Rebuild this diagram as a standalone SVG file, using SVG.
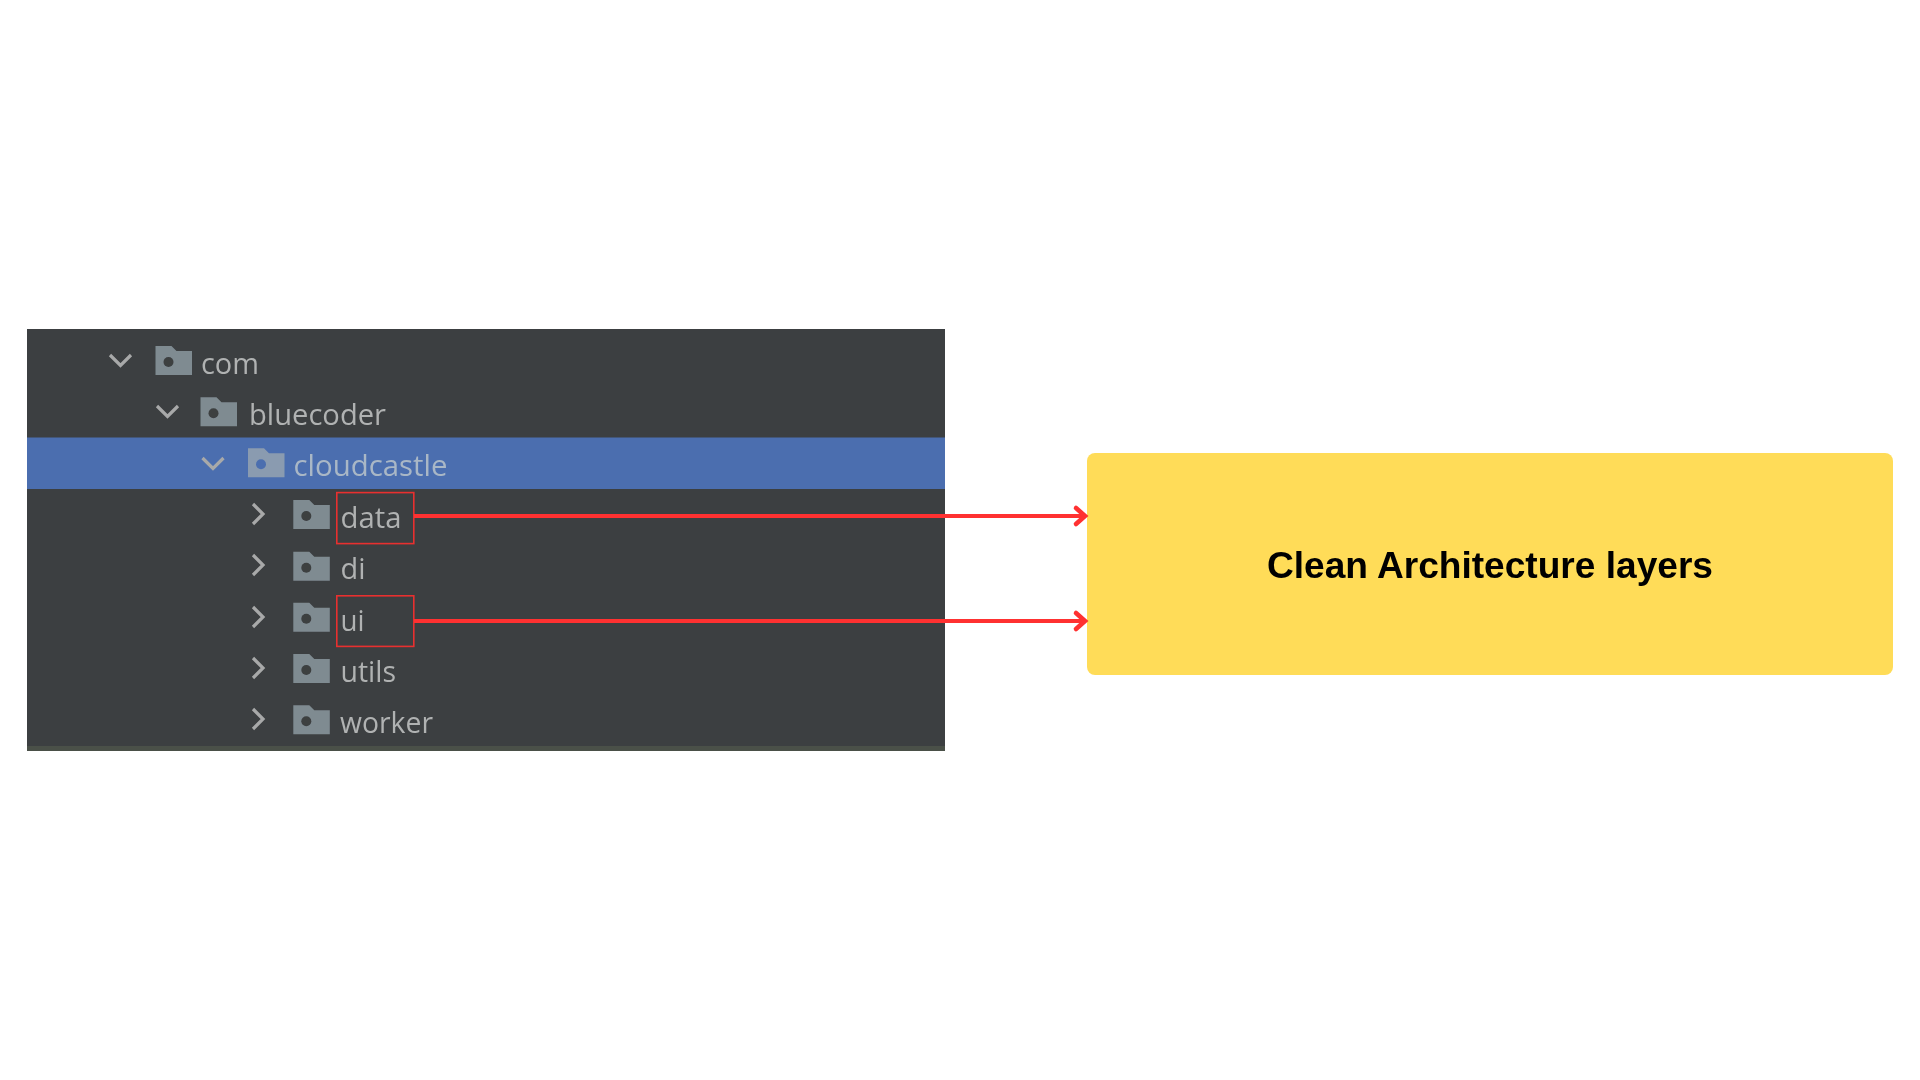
<svg xmlns="http://www.w3.org/2000/svg" width="1920" height="1080" viewBox="0 0 1920 1080">
<style>
.t{font-family:"Open Sans","Liberation Sans",sans-serif;font-size:30px;fill:#b0b2b2}
.chev{fill:none;stroke:#a8a9a9;stroke-width:3.2}
.hl{fill:none;stroke:#e8302f;stroke-width:1.6}
.conn{fill:none;stroke:#ff3131;stroke-width:4}
.head{fill:none;stroke:#ff3131;stroke-width:4.6;stroke-linecap:round}
.dot{fill:#3c3f41}
</style>
<defs>
<filter id="soft" x="-5%" y="-5%" width="110%" height="110%"><feGaussianBlur stdDeviation="0.7"/></filter>
<path id="folder" d="M0 0H16L21 5H36.5V29H0Z" fill="#7f8b91"/>
<path id="down" d="M0 0L10.5 10.5L21 0" class="chev"/>
<path id="right" d="M0 0L10 10L0 20" class="chev"/>
</defs>
<rect width="1920" height="1080" fill="#ffffff"/>
<g id="panel">
<rect x="27" y="329" width="918" height="422" fill="#3c3f41"/>
<rect x="27" y="437.5" width="918" height="51.5" fill="#4b6eaf"/>
<rect x="27" y="746" width="918" height="5" fill="#4a5048"/>
</g>
<g filter="url(#soft)">
<g id="node-com"><use href="#down" x="110" y="355"/><use href="#folder" x="155.5" y="346"/><circle class="dot" cx="168.5" cy="362" r="5"/><text class="t" x="201" y="373.5" textLength="58" lengthAdjust="spacingAndGlyphs">com</text></g>
<g id="node-bluecoder"><use href="#down" x="157" y="406"/><use href="#folder" x="200.5" y="397.3"/><circle class="dot" cx="213.5" cy="413.3" r="5"/><text class="t" x="249" y="425" textLength="137" lengthAdjust="spacingAndGlyphs">bluecoder</text></g>
<g id="node-cloudcastle"><use href="#down" x="202.5" y="458"/><path d="M0 0H16L21 5H36.5V29H0Z" fill="#8a9bb0" transform="translate(248,448.3)"/><circle cx="261" cy="464.3" r="5" fill="#4b6eaf"/><text class="t" x="293.5" y="476.3" textLength="154" lengthAdjust="spacingAndGlyphs" style="fill:#a9b7c6">cloudcastle</text></g>
<g id="node-data"><use href="#right" x="253" y="504"/><use href="#folder" x="293.3" y="500"/><circle class="dot" cx="306.3" cy="516" r="5"/><text class="t" x="340.5" y="528" textLength="61" lengthAdjust="spacingAndGlyphs">data</text></g>
<g id="node-di"><use href="#right" x="253" y="555"/><use href="#folder" x="293.3" y="551.7"/><circle class="dot" cx="306.3" cy="567.7" r="5"/><text class="t" x="340.5" y="578.7" textLength="25" lengthAdjust="spacingAndGlyphs">di</text></g>
<g id="node-ui"><use href="#right" x="253" y="607"/><use href="#folder" x="293.3" y="602.7"/><circle class="dot" cx="306.3" cy="618.7" r="5"/><text class="t" x="340.5" y="630.5" textLength="24" lengthAdjust="spacingAndGlyphs">ui</text></g>
<g id="node-utils"><use href="#right" x="253" y="658"/><use href="#folder" x="293.3" y="654"/><circle class="dot" cx="306.3" cy="670" r="5"/><text class="t" x="340.5" y="681.5" textLength="55.5" lengthAdjust="spacingAndGlyphs">utils</text></g>
<g id="node-worker"><use href="#right" x="253" y="709"/><use href="#folder" x="293.3" y="705.3"/><circle class="dot" cx="306.3" cy="721.3" r="5"/><text class="t" x="340" y="733" textLength="93" lengthAdjust="spacingAndGlyphs">worker</text></g>
</g>
<g id="highlights">
<rect class="hl" x="336.8" y="492.6" width="77" height="51"/>
<rect class="hl" x="336.8" y="595.8" width="77" height="50.6"/>
</g>
<g id="node-layers">
<rect x="1087" y="453" width="806" height="222" rx="8" fill="#ffdc58"/>
<text x="1267" y="578.3" font-family="'Liberation Sans',Arimo,sans-serif" font-weight="700" font-size="37" fill="#000000" textLength="446" lengthAdjust="spacingAndGlyphs">Clean Architecture layers</text>
</g>
<g id="connectors">
<path class="conn" d="M414 516H1085"/><path class="head" d="M1076 508L1085 516L1076 524"/>
<path class="conn" d="M414 621H1085"/><path class="head" d="M1076 613L1085 621L1076 629"/>
</g>
</svg>
